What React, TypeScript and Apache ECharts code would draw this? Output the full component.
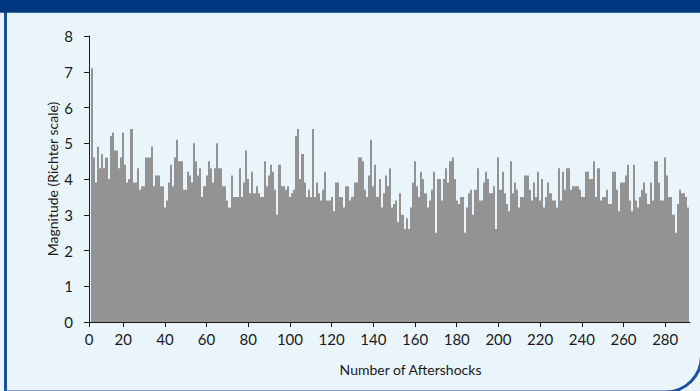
import React, { useEffect, useRef } from "react";
import * as echarts from "echarts";

// Magnitudes of successive aftershocks (read left to right)
const magnitudes1: number[] = [7.1, 4.6, 3.9, 4.9, 4.3, 4.7, 4.3, 4.6, 4.0, 5.2, 5.3, 4.8, 4.8, 4.3, 4.6, 5.3, 4.4, 3.9, 4.0, 5.4, 3.9, 3.9, 4.3, 3.7, 3.8, 3.8];
const magnitudes2: number[] = [4.6, 4.6, 4.6, 4.9, 3.8, 4.1, 4.1, 3.8, 3.8, 3.2, 3.4, 3.9, 4.4, 3.8, 4.6, 5.1, 4.5, 4.5, 3.7, 3.7, 4.2, 4.1, 3.9, 5.0, 4.5, 4.1, 4.3, 3.5, 3.8];
const magnitudes3: number[] = [4.1, 4.5, 4.3, 3.9, 4.3, 5.0, 4.3, 4.3, 3.8, 3.8, 3.4, 3.2, 4.1, 3.5, 3.5, 3.5, 4.3, 3.5, 3.9, 4.8, 4.0, 3.6, 4.2, 3.6, 3.8, 3.6, 3.5, 3.5, 4.5, 3.8];
const magnitudes4: number[] = [4.1, 4.4, 4.2, 3.7, 3.0, 4.4, 3.8, 3.8, 3.7, 3.8, 3.5, 3.6, 3.7, 5.2, 5.4, 4.0, 4.7, 3.9, 3.5, 3.7, 3.5, 5.4, 3.5, 3.9, 3.6, 3.4, 3.7, 4.2, 3.4];
const magnitudes5: number[] = [3.4, 3.5, 3.1, 3.9, 3.9, 3.5, 3.5, 3.2, 3.8, 3.8, 3.4, 3.5, 3.9, 3.9, 4.6, 4.6, 4.5, 3.7, 3.5, 4.1, 5.1, 3.8, 4.4, 3.5, 4.0, 3.2, 3.6, 4.1, 3.8];
const magnitudes6: number[] = [4.3, 3.2, 3.3, 3.4, 2.8, 3.6, 3.0, 2.6, 2.9, 2.6, 3.2, 3.9, 4.5, 3.8, 3.5, 4.2, 4.0, 3.6, 3.2, 3.4, 3.7, 4.2, 2.5, 4.0, 4.0, 3.4, 4.0, 4.3, 3.9, 4.5];
const magnitudes7: number[] = [4.6, 4.0, 3.4, 3.3, 3.5, 3.5, 2.5, 3.2, 3.6, 3.7, 3.0, 3.7, 4.3, 3.4, 3.4, 3.9, 4.2, 4.0, 3.6, 3.6, 3.8, 2.6, 4.6, 3.7, 4.2, 3.6, 3.3, 3.1, 4.5];
const magnitudes8: number[] = [3.6, 3.9, 3.7, 3.2, 3.5, 3.5, 4.1, 4.1, 3.7, 3.4, 3.9, 3.5, 4.2, 3.4, 4.0, 3.2, 3.5, 3.9, 3.6, 3.4, 3.4, 3.2, 4.3, 3.4, 4.2, 3.7, 4.3, 4.3, 3.7];
const magnitudes9: number[] = [3.8, 3.8, 3.8, 3.7, 3.5, 3.5, 4.2, 4.2, 4.0, 4.0, 4.5, 3.5, 4.3, 3.4, 3.5, 3.5, 3.7, 3.3, 3.3, 4.2, 4.2, 3.7, 3.1, 3.9, 3.9, 4.1, 4.4, 3.4, 3.1];
const magnitudes10: number[] = [4.4, 3.4, 3.2, 3.5, 3.7, 3.9, 3.6, 3.3, 3.9, 3.4, 4.5, 4.5, 3.9, 3.4, 3.4, 4.6, 4.1, 3.5, 3.5, 3.0, 2.5, 3.3, 3.7, 3.6, 3.6, 3.5, 3.2];

const magnitudes: number[] = [
  ...magnitudes1, ...magnitudes2, ...magnitudes3, ...magnitudes4, ...magnitudes5,
  ...magnitudes6, ...magnitudes7, ...magnitudes8, ...magnitudes9, ...magnitudes10,
];

const FIRST_POSITION = 5; // axis position of the first bar
const xTickLabels: number[] = [20, 40, 60, 80, 100, 120, 140, 160, 180, 200, 220, 240, 260, 280];
const yTicks = { min: 0, max: 8, interval: 1 };
const xTitle = "Number of Aftershocks";
const yTitle = "Magnitude (Richter scale)";

const FONT = "Lato, 'Noto Sans', sans-serif";
const X_MIN = 3.6;
const X_MAX = 291.9;
const BAR_COLOR = "#939393";

export default function App() {
  const ref = useRef<HTMLDivElement>(null);

  useEffect(() => {
    document.body.style.margin = "0";
    if (!ref.current) return;
    const chart = echarts.init(ref.current, undefined, { renderer: "svg" });
    const data = magnitudes.map((m, i) => [i + FIRST_POSITION, m]);
    chart.setOption({
      animation: false,
      backgroundColor: "#e9f4fb",
      grid: { left: 89, right: 10, top: 36, bottom: 69, containLabel: false },
      graphic: [
        {
          type: "rect",
          z: 0,
          shape: { x: 5.5, y: 5, width: 696, height: 387, r: [0, 0, 36, 0] },
          style: { fill: "transparent", stroke: "#1b4f9f", lineWidth: 3 },
        },
        {
          type: "rect",
          z: 1,
          shape: { x: 0, y: 0, width: 700, height: 12.7 },
          style: { fill: "#003781" },
        },
      ],
      xAxis: {
        type: "value",
        min: X_MIN,
        max: X_MAX,
        splitLine: { show: false },
        axisLine: { show: true, onZero: false, lineStyle: { color: "#1a1a1a", width: 1 } },
        axisTick: {
          show: true,
          length: 5,
          inside: false,
          customValues: [X_MIN, ...xTickLabels],
          lineStyle: { color: "#1a1a1a" },
        },
        axisLabel: {
          show: true,
          customValues: [X_MIN, ...xTickLabels],
          formatter: (v: number) => (v < 10 ? "0" : String(v)),
          color: "#1a1a1a",
          fontSize: 15,
          fontFamily: FONT,
          margin: 9,
          showMinLabel: true,
          showMaxLabel: true,
        },
        name: xTitle,
        nameLocation: "middle",
        nameGap: 40,
        nameMoveOverlap: false,
        nameTextStyle: { color: "#1a1a1a", fontSize: 14, fontFamily: FONT, padding: [0, 0, 0, 42] },
      },
      yAxis: {
        type: "value",
        min: yTicks.min,
        max: yTicks.max,
        interval: yTicks.interval,
        splitLine: { show: false },
        axisLine: { show: true, lineStyle: { color: "#1a1a1a", width: 1 } },
        axisTick: { show: true, length: 5, inside: false, lineStyle: { color: "#1a1a1a" } },
        axisLabel: {
          color: "#1a1a1a",
          fontSize: 15,
          fontFamily: FONT,
          margin: 16,
        },
        name: yTitle,
        nameLocation: "middle",
        nameGap: 30,
        nameMoveOverlap: false,
        nameTextStyle: { color: "#1a1a1a", fontSize: 14, fontFamily: FONT },
      },
      series: [
        {
          type: "custom",
          data,
          silent: true,
          clip: true,
          renderItem: (params: any, api: any) => {
            const x = api.value(0);
            const y = api.value(1);
            const top = api.coord([x, y]);
            const base = api.coord([x, 0]);
            const w = api.size([1, 0])[0];
            const left = Math.round(top[0] - w / 2);
            const right = Math.round(top[0] + w / 2);
            return {
              type: "rect",
              shape: { x: left, y: top[1], width: right - left, height: base[1] - top[1] },
              style: { fill: BAR_COLOR },
            };
          },
        },
      ],
    });
    return () => chart.dispose();
  }, []);

  return <div ref={ref} style={{ width: 700, height: 391 }} />;
}
